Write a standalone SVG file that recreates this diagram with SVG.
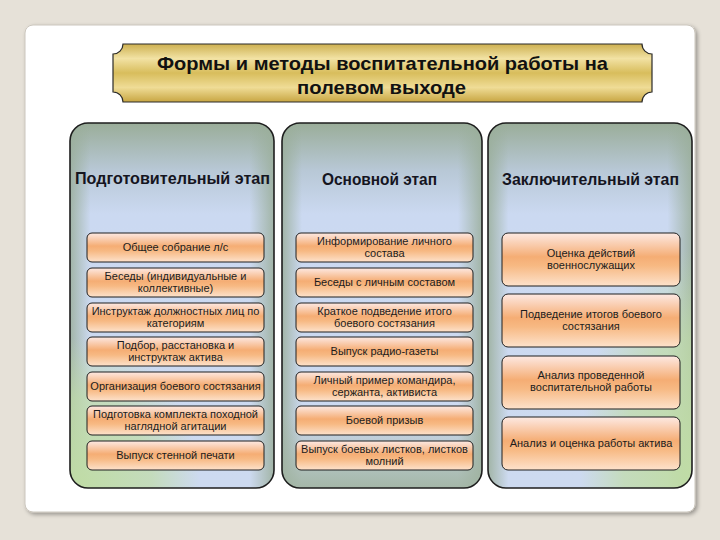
<svg xmlns="http://www.w3.org/2000/svg" width="720" height="540" viewBox="0 0 720 540">
<style>
.col{fill:url(#colg)}
.edge{fill:none;stroke:#1e1e1e;stroke-width:1.6}
.box{stroke:#1e1e1e;stroke-width:1;fill:url(#boxg)}
.bt{font-family:"Liberation Sans",Arial,sans-serif;font-size:11px;fill:#1c1c1c;text-anchor:middle}
.ht{font-family:"Liberation Sans",Arial,sans-serif;font-size:16px;font-weight:bold;fill:#15151f;text-anchor:middle}
.tt{font-family:"Liberation Sans",Arial,sans-serif;font-size:19px;font-weight:bold;fill:#111;text-anchor:middle}
</style>
<defs>
<linearGradient id="boxg" x1="0" y1="0" x2="0" y2="1">
<stop offset="0" stop-color="#fde9e3"/>
<stop offset="0.45" stop-color="#f5ad74"/>
<stop offset="0.62" stop-color="#f7b983"/>
<stop offset="1" stop-color="#fde2cc"/>
</linearGradient>
<linearGradient id="colg" x1="0" y1="0" x2="0" y2="1">
<stop offset="0" stop-color="#9aad99"/>
<stop offset="0.13" stop-color="#b8c8d6"/>
<stop offset="0.25" stop-color="#cbd9f1"/>
<stop offset="1" stop-color="#cddaf0"/>
</linearGradient>
<linearGradient id="vig" x1="0" y1="0" x2="1" y2="0">
<stop offset="0" stop-color="#9aae9a" stop-opacity="0.85"/>
<stop offset="0.1" stop-color="#9aae9a" stop-opacity="0"/>
<stop offset="0.88" stop-color="#9aae9a" stop-opacity="0"/>
<stop offset="1" stop-color="#9aae9a" stop-opacity="0.85"/>
</linearGradient>
<linearGradient id="bot2" x1="0" y1="0" x2="0" y2="1">
<stop offset="0.8" stop-color="#a0b3a0" stop-opacity="0"/>
<stop offset="1" stop-color="#a0b3a0" stop-opacity="0.9"/>
</linearGradient>
<radialGradient id="grn1" gradientUnits="userSpaceOnUse" cx="0" cy="0" r="1" gradientTransform="translate(80,488) scale(120,150)">
<stop offset="0" stop-color="#c0dca6" stop-opacity="1"/>
<stop offset="0.6" stop-color="#c0dca6" stop-opacity="0.7"/>
<stop offset="1" stop-color="#c0dca6" stop-opacity="0"/>
</radialGradient>
<radialGradient id="grn3" gradientUnits="userSpaceOnUse" cx="0" cy="0" r="1" gradientTransform="translate(690,470) scale(110,220)">
<stop offset="0" stop-color="#c0dca6" stop-opacity="1"/>
<stop offset="0.6" stop-color="#c0dca6" stop-opacity="0.7"/>
<stop offset="1" stop-color="#c0dca6" stop-opacity="0"/>
</radialGradient>
<linearGradient id="gold" x1="0" y1="0" x2="0" y2="1">
<stop offset="0" stop-color="#cdb050"/>
<stop offset="0.25" stop-color="#f2e2a4"/>
<stop offset="0.5" stop-color="#d8bd5c"/>
<stop offset="0.75" stop-color="#efdc96"/>
<stop offset="1" stop-color="#c8a642"/>
</linearGradient>
<filter id="sh" x="-5%" y="-5%" width="110%" height="110%">
<feGaussianBlur in="SourceAlpha" stdDeviation="2"/>
<feOffset dx="2" dy="2"/>
<feComponentTransfer><feFuncA type="linear" slope="0.35"/></feComponentTransfer>
<feMerge><feMergeNode/><feMergeNode in="SourceGraphic"/></feMerge>
</filter>
</defs>
<rect width="720" height="540" fill="#e6e1d8"/>
<rect x="25" y="25" width="670" height="487" rx="8" fill="#ffffff" stroke="#cbc6bd" stroke-width="1" filter="url(#sh)"/>

<g id="title">
<path d="M123,44 H642 A10,10 0 0 0 652,54 V92 A10,10 0 0 0 642,102 H123 A10,10 0 0 0 113,92 V54 A10,10 0 0 0 123,44 Z" fill="url(#gold)" stroke="#2a2a2a" stroke-width="1.2"/>
<text class="tt" x="382.5" y="70" textLength="451" lengthAdjust="spacingAndGlyphs">Формы и методы воспитательной работы на</text>
<text class="tt" x="381.5" y="94" textLength="169" lengthAdjust="spacingAndGlyphs">полевом выходе</text>
</g>

<g id="col1">
<rect class="col" x="70" y="123" width="204" height="365" rx="18"/>
<rect x="70" y="123" width="204" height="365" rx="18" fill="url(#vig)"/>
<rect x="70" y="123" width="204" height="365" rx="18" fill="url(#grn1)"/>
<rect class="edge" x="70" y="123" width="204" height="365" rx="18"/>
<text class="ht" x="172.5" y="184" textLength="195" lengthAdjust="spacingAndGlyphs">Подготовительный этап</text>
</g>
<g id="col2">
<rect class="col" x="282" y="123" width="200" height="365" rx="18"/>
<rect x="282" y="123" width="200" height="365" rx="18" fill="url(#vig)"/>
<rect x="282" y="123" width="200" height="365" rx="18" fill="url(#bot2)"/>
<rect class="edge" x="282" y="123" width="200" height="365" rx="18"/>
<text class="ht" x="379.5" y="185" textLength="115" lengthAdjust="spacingAndGlyphs">Основной этап</text>
</g>
<g id="col3">
<rect class="col" x="488" y="123" width="204" height="365" rx="18"/>
<rect x="488" y="123" width="204" height="365" rx="18" fill="url(#vig)"/>
<rect x="488" y="123" width="204" height="365" rx="18" fill="url(#grn3)"/>
<rect class="edge" x="488" y="123" width="204" height="365" rx="18"/>
<text class="ht" x="590.5" y="185" textLength="177" lengthAdjust="spacingAndGlyphs">Заключительный этап</text>
</g>

<g id="c1b1"><rect class="box" x="87" y="233" width="177" height="29" rx="5"/><text class="bt" x="175.5" y="251">Общее собрание л/с</text></g>
<g id="c1b2"><rect class="box" x="87" y="268" width="177" height="29" rx="5"/><text class="bt" x="175.5" y="280">Беседы (индивидуальные и</text><text class="bt" x="175.5" y="292">коллективные)</text></g>
<g id="c1b3"><rect class="box" x="87" y="303" width="177" height="29" rx="5"/><text class="bt" x="175.5" y="315">Инструктаж должностных лиц по</text><text class="bt" x="175.5" y="327">категориям</text></g>
<g id="c1b4"><rect class="box" x="87" y="337" width="177" height="29" rx="5"/><text class="bt" x="175.5" y="349">Подбор, расстановка и</text><text class="bt" x="175.5" y="361">инструктаж актива</text></g>
<g id="c1b5"><rect class="box" x="87" y="372" width="177" height="29" rx="5"/><text class="bt" x="175.5" y="390">Организация боевого состязания</text></g>
<g id="c1b6"><rect class="box" x="87" y="406" width="177" height="29" rx="5"/><text class="bt" x="175.5" y="418">Подготовка комплекта походной</text><text class="bt" x="175.5" y="430">наглядной агитации</text></g>
<g id="c1b7"><rect class="box" x="87" y="441" width="177" height="29" rx="5"/><text class="bt" x="175.5" y="459">Выпуск стенной печати</text></g>

<g id="c2b1"><rect class="box" x="296" y="233" width="177" height="29" rx="5"/><text class="bt" x="384.5" y="245">Информирование личного</text><text class="bt" x="384.5" y="257">состава</text></g>
<g id="c2b2"><rect class="box" x="296" y="268" width="177" height="29" rx="5"/><text class="bt" x="384.5" y="286">Беседы с личным составом</text></g>
<g id="c2b3"><rect class="box" x="296" y="303" width="177" height="29" rx="5"/><text class="bt" x="384.5" y="315">Краткое подведение итого</text><text class="bt" x="384.5" y="327">боевого состязания</text></g>
<g id="c2b4"><rect class="box" x="296" y="337" width="177" height="29" rx="5"/><text class="bt" x="384.5" y="355">Выпуск радио-газеты</text></g>
<g id="c2b5"><rect class="box" x="296" y="372" width="177" height="29" rx="5"/><text class="bt" x="384.5" y="384">Личный пример командира,</text><text class="bt" x="384.5" y="396">сержанта, активиста</text></g>
<g id="c2b6"><rect class="box" x="296" y="406" width="177" height="29" rx="5"/><text class="bt" x="384.5" y="424">Боевой призыв</text></g>
<g id="c2b7"><rect class="box" x="296" y="441" width="177" height="29" rx="5"/><text class="bt" x="384.5" y="453">Выпуск боевых листков, листков</text><text class="bt" x="384.5" y="465">молний</text></g>

<g id="c3b1"><rect class="box" x="502" y="233" width="178" height="53" rx="6"/><text class="bt" x="591" y="257">Оценка действий</text><text class="bt" x="591" y="269">военнослужащих</text></g>
<g id="c3b2"><rect class="box" x="502" y="294" width="178" height="53" rx="6"/><text class="bt" x="591" y="318">Подведение итогов боевого</text><text class="bt" x="591" y="330">состязания</text></g>
<g id="c3b3"><rect class="box" x="502" y="356" width="178" height="53" rx="6"/><text class="bt" x="591" y="379">Анализ проведенной</text><text class="bt" x="591" y="391">воспитательной работы</text></g>
<g id="c3b4"><rect class="box" x="502" y="417" width="178" height="53" rx="6"/><text class="bt" x="591" y="447">Анализ и оценка работы актива</text></g>
</svg>
